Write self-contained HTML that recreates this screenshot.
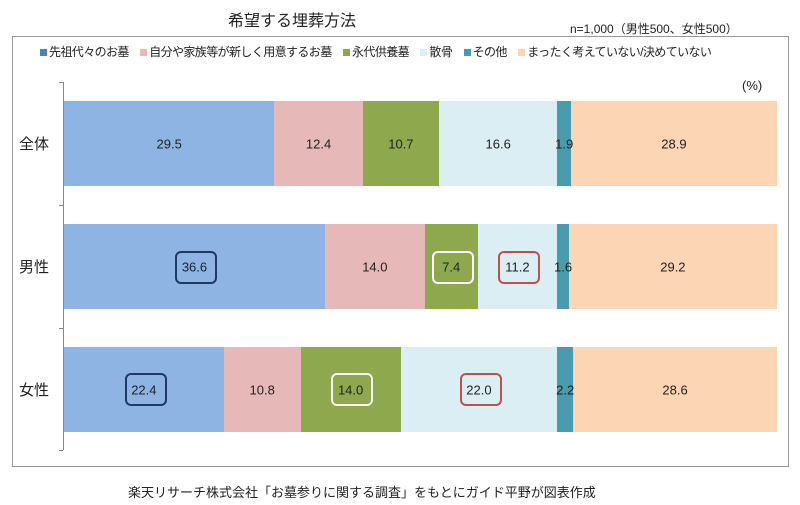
<!DOCTYPE html>
<html><head><meta charset="utf-8"><style>
body{margin:0;background:#fff;width:800px;height:505px;position:relative;overflow:hidden;font-family:"Liberation Sans","Noto Sans CJK JP",sans-serif;color:#222}
.a{position:absolute;white-space:nowrap}
.seg{position:absolute}
.seg span{position:absolute;left:50%;top:50%;transform:translate(-50%,-50%);font-size:13px;color:#222;white-space:nowrap}
.box{position:absolute;border:2.5px solid;border-radius:6px;box-sizing:border-box}
.lg{display:inline-block;width:7px;height:7px;margin-right:2px;vertical-align:middle}
</style></head><body>
<div class="a" style="left:228px;top:7px;font-size:16px">希望する埋葬方法</div>
<div class="a" style="left:570px;top:20px;font-size:12px">n=1,000（男性500、女性500）</div>
<div class="a" style="left:12px;top:36px;width:775px;height:429px;border:1px solid #999"></div>
<div class="a" style="left:40px;top:43px;font-size:12px;letter-spacing:-0.6px">
<span class="lg" style="background:#4f81bd"></span>先祖代々のお墓　<span class="lg" style="background:#e6b9b8"></span>自分や家族等が新しく用意するお墓　<span class="lg" style="background:#8ea84e"></span>永代供養墓　<span class="lg" style="background:#dbeef4"></span>散骨　<span class="lg" style="background:#4a9bb0"></span>その他　<span class="lg" style="background:#fcd5b5"></span>まったく考えていない/決めていない</div>
<div class="a" style="left:742px;top:78px;font-size:13px">(%)</div>
<div class="a" style="left:63px;top:82px;width:1px;height:368px;background:#888"></div>
<div class="a" style="left:59px;top:82px;width:4px;height:1px;background:#888"></div>
<div class="a" style="left:59px;top:205px;width:4px;height:1px;background:#888"></div>
<div class="a" style="left:59px;top:328px;width:4px;height:1px;background:#888"></div>
<div class="a" style="left:59px;top:450px;width:4px;height:1px;background:#888"></div>
<div class="a" style="left:19px;top:133px;font-size:15px">全体</div>
<div class="a" style="left:19px;top:256px;font-size:15px">男性</div>
<div class="a" style="left:19px;top:379px;font-size:15px">女性</div>
<div id="bars"></div>
<script>
var cols=["#8eb4e3","#e6b9b8","#8ea84e","#dbeef4","#4a9bb0","#fcd5b5"];
var rows=[[101,[29.5,12.4,10.7,16.6,1.9,28.9]],[224,[36.6,14.0,7.4,11.2,1.6,29.2]],[347,[22.4,10.8,14.0,22.0,2.2,28.6]]];
var h="",t="";rows.forEach(function(r){var x=64;r[1].forEach(function(v,i){var w=v/100*713;h+='<div class="seg" style="left:'+x+'px;top:'+r[0]+'px;width:'+w+'px;height:85px;background:'+cols[i]+'"></div>';t+='<div class="seg" style="left:'+x+'px;top:'+r[0]+'px;width:'+w+'px;height:85px"><span>'+v.toFixed(1)+'</span></div>';x+=w;});});
document.getElementById("bars").innerHTML=h+t;
</script>
<div class="box" style="left:175px;top:251px;width:42px;height:33px;border-color:#1f3864"></div>
<div class="box" style="left:432px;top:251px;width:42px;height:33px;border-color:#fff"></div>
<div class="box" style="left:498px;top:251px;width:42px;height:33px;border-color:#c0504d"></div>
<div class="box" style="left:125px;top:373px;width:42px;height:33px;border-color:#1f3864"></div>
<div class="box" style="left:331px;top:373px;width:42px;height:33px;border-color:#fff"></div>
<div class="box" style="left:460px;top:373px;width:42px;height:33px;border-color:#c0504d"></div>
<div class="a" style="left:128px;top:482px;font-size:13px">楽天リサーチ株式会社「お墓参りに関する調査」をもとにガイド平野が図表作成</div>
</body></html>
